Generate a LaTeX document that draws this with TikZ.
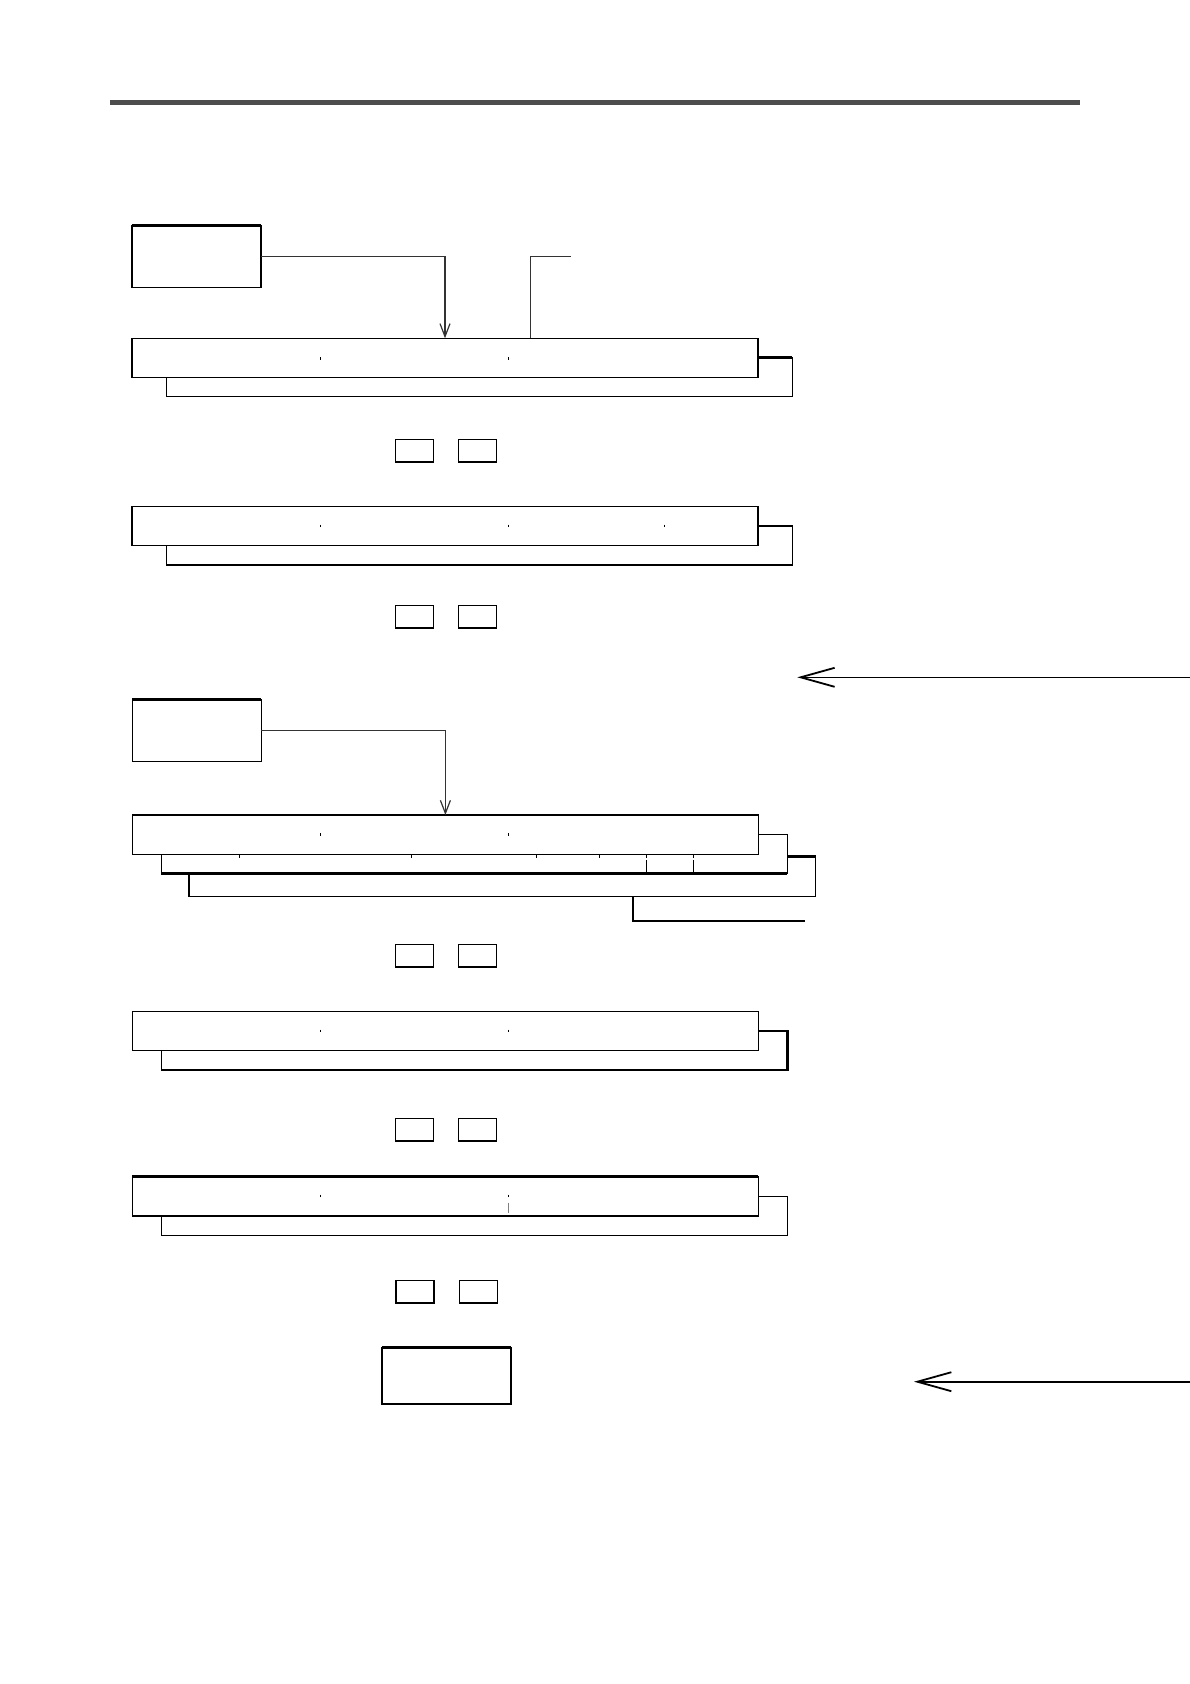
\documentclass[tikz,border=0pt]{standalone}
\usetikzlibrary{arrows.meta,calc}
\definecolor{rulegray}{HTML}{4D4D4D}
\tikzset{
  box/.style={draw=black,fill=white,line width=1.4pt,anchor=north west,inner sep=0pt,outer sep=0pt},
  sq/.style={box,minimum width=38pt,minimum height=22.5pt},
  bigbox/.style={box,minimum width=129pt,minimum height=62pt},
  bar/.style={box,minimum width=626pt,minimum height=39pt},
  conn/.style={draw=black!80,line width=1.5pt},
  tick/.style={draw=black,line width=0.6pt},
  thk/.style={draw=black,line width=2.6pt},
  downarr/.style={conn,-{Straight Barb[length=13pt,width=10pt,line width=1.2pt]}},
  leftarr/.style={draw=black,line width=1.5pt,-{Straight Barb[length=34pt,width=19pt,line width=1.8pt]}}
}
\begin{document}
\begin{tikzpicture}[x=1pt,y=-1pt]
\useasboundingbox (0,0) rectangle (1190,1684);
% header rule
\fill[rulegray] (110,99.5) rectangle (1080,105);

% ---------- first group ----------
\node[bigbox] (A) at (132,225.3) {};
\draw[thk] (A.north west) -- (A.north east);
\node[bar] (b1s) at (166.4,357.7) {};
\node[bar] (b1) at (132,338.3) {};
\draw[thk] (b1s.north east) -- ++(-34,0);
\draw[tick] (320.4,357) -- ++(0,2.5) (508.4,357) -- ++(0,2.5);
\draw[downarr] (A.east) -| (b1.north);
\coordinate (q1) at (571,256.7);
\draw[conn] ($(b1.north west)+(398.7,0)$) |- (q1);

\node[sq] (s1a) at (395.5,439.3) {};
\node[sq] (s1b) at (458.4,439.3) {};

\node[bar] (b2s) at (166.4,526) {};
\node[bar] (b2) at (132,506.3) {};
\draw[thk] (b2s.north east) -- ++(-34,0);
\draw[tick] (320.4,524.5) -- ++(0,2.5) (508.4,524.5) -- ++(0,2.5) (664.6,524.5) -- ++(0,2.5);

\node[sq] (s2a) at (395.5,605.3) {};
\node[sq] (s2b) at (458.4,605.3) {};

\coordinate (e1) at (1190,677.3);
\coordinate (t1) at (797.3,677.3);
\draw[leftarr] (e1) -- (t1);

% ---------- second group ----------
\node[bigbox] (B) at (132.4,699.3) {};
\draw[thk] (B.north west) -- (B.north east);
\node[bar,minimum width=626.7pt,minimum height=39.6pt] (b3c) at (188.9,856.7) {};
\node[bar,minimum height=39.4pt] (b3b) at (161.3,834.3) {};
\node[bar,minimum height=39.3pt] (b3a) at (132.4,815) {};
\draw[thk] (b3a.north west) -- (b3a.north east);
\draw[thk] (b3b.south west) -- (b3b.south east);
\draw[thk] (b3c.north east) -- ++(-28.5,0);
\draw[tick] (320.6,833) -- ++(0,2.5) (508.4,833) -- ++(0,2.5);
\draw[tick] (239.4,855) -- ++(0,2.5) (411.5,855) -- ++(0,2.5)
            (536.4,855) -- ++(0,2.5) (599.3,855) -- ++(0,2.5);
\draw[tick,line width=0.8pt] (646.6,855) -- ++(0,2.5) (646.6,860) -- (646.6,873.7)
            (693.5,855) -- ++(0,2.5) (693.5,860) -- (693.5,873.7);
\draw[downarr] (B.east) -| (b3a.north);
\coordinate (r1) at (805,921);
\draw[conn,draw=black] ($(b3c.south west)+(444,0)$) |- (r1);

\node[sq] (s3a) at (395.5,944.3) {};
\node[sq] (s3b) at (458.4,944.3) {};

\node[bar] (b4s) at (161.3,1031) {};
\node[bar] (b4) at (132.4,1011.3) {};
\draw[thk] (b4s.south west) -- (b4s.south east) -- ++(0,-39) -- ++(-29,0);
\draw[tick] (320.6,1029.5) -- ++(0,2.5) (508.4,1029.5) -- ++(0,2.5);

\node[sq] (s4a) at (395.5,1118.3) {};
\node[sq] (s4b) at (458.4,1118.3) {};

\node[bar] (b5s) at (161.3,1196.3) {};
\node[bar,minimum height=39.3pt] (b5) at (132.4,1176.7) {};
\draw[thk] (b5.north west) -- (b5.north east);
\draw[thk] (b5.south west) -- (b5.south east);
\draw[tick] (320.6,1194.5) -- ++(0,2.5) (508.4,1194.5) -- ++(0,2.5);
\draw[draw=black!50,line width=0.8pt] (508.4,1202.7) -- (508.4,1212.7);

\node[sq] (s5a) at (395.9,1280.3) {};
\node[sq] (s5b) at (459.6,1280.3) {};

\node[box,minimum width=129pt,minimum height=56.3pt] (C) at (382,1347.7) {};
\draw[thk] (C.north west) -- (C.north east);
\draw[thk] (C.south west) -- (C.south east);

\coordinate (e2) at (1190,1381.7);
\coordinate (t2) at (914,1381.7);
\draw[leftarr,line width=2pt] (e2) -- (t2);
\end{tikzpicture}
\end{document}
